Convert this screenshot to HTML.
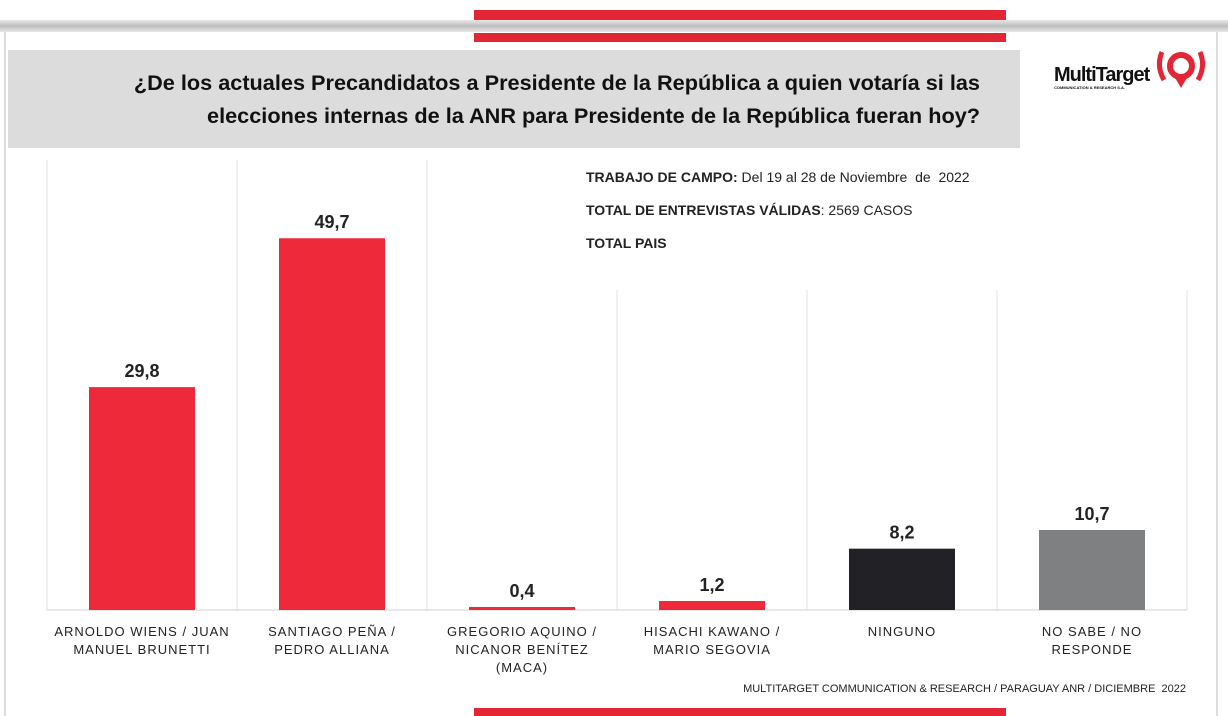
<!DOCTYPE html>
<html><head><meta charset="utf-8"><style>
body{margin:0;width:1228px;height:716px;overflow:hidden;background:#fff;font-family:"Liberation Sans",sans-serif;position:relative}
div{position:absolute}
</style></head><body>
<div style="left:0;top:0;width:1228px;height:22px;background:#fff"></div>
<div style="left:0;top:20px;width:1228px;height:12px;background:linear-gradient(#e8e8e8,#bdbdbd,#e8e8e8)"></div>
<div style="left:474px;top:10px;width:532px;height:10px;background:#e32636"></div>
<div style="left:474px;top:33px;width:532px;height:9px;background:#e32636"></div>
<div style="left:4px;top:32px;width:2px;height:684px;background:#ddd"></div>
<div style="left:1216px;top:32px;width:2px;height:684px;background:#ddd"></div>
<div style="left:8px;top:50px;width:1012px;height:98px;background:#dcdcdc"></div>
<div style="left:40px;top:66px;width:940px;text-align:right;font-size:21.7px;font-weight:bold;line-height:33px;color:#111">¿De los actuales Precandidatos a Presidente de la República a quien votaría si las<br>elecciones internas de la ANR para Presidente de la República fueran hoy?</div>
<div style="left:1054px;top:64px;font-size:20px;font-weight:bold;letter-spacing:-1px;color:#111">MultiTarget<div style="left:0;top:21px;font-size:4px;letter-spacing:0;white-space:nowrap">COMMUNICATION &amp; RESEARCH S.A.</div></div>
<svg style="position:absolute;left:1154px;top:44px" width="56" height="50"><path d="M8 8 Q2 22 10 36" stroke="#e32636" stroke-width="5" fill="none"/><path d="M46 8 Q52 22 44 36" stroke="#e32636" stroke-width="5" fill="none"/><circle cx="27" cy="22" r="11" stroke="#e32636" stroke-width="6" fill="none"/><path d="M20 32 L27 44 L34 32Z" fill="#e32636"/></svg>
<div style="left:586px;top:161px;font-size:14px;line-height:33px;color:#222"><b>TRABAJO DE CAMPO:</b> Del 19 al 28 de Noviembre &nbsp;de &nbsp;2022<br><b>TOTAL DE ENTREVISTAS VÁLIDAS</b>: 2569 CASOS<br><b>TOTAL PAIS</b></div>
<svg id="chart" style="position:absolute;left:0;top:0" width="1228" height="716"></svg>
<div style="left:600px;top:683px;width:586px;text-align:right;font-size:11px;color:#222">MULTITARGET COMMUNICATION &amp; RESEARCH / PARAGUAY ANR / DICIEMBRE &nbsp;2022</div>
<div style="left:474px;top:708px;width:532px;height:8px;background:#e32636"></div>
<script>
const categories=[["ARNOLDO WIENS / JUAN","MANUEL BRUNETTI"],["SANTIAGO PEÑA /","PEDRO ALLIANA"],["GREGORIO AQUINO /","NICANOR BENÍTEZ","(MACA)"],["HISACHI KAWANO /","MARIO SEGOVIA"],["NINGUNO"],["NO SABE / NO","RESPONDE"]];
const values=[29.8,49.7,0.4,1.2,8.2,10.7];
const labels=["29,8","49,7","0,4","1,2","8,2","10,7"];
const colors=["#ee2a3a","#ee2a3a","#ee2a3a","#ee2a3a","#222226","#7f8081"];
const svg=document.getElementById('chart');
const NS='http://www.w3.org/2000/svg';
const x0=47,colW=190,base=610,scale=7.48,barW=106;
const xc=i=>x0+colW*i+colW/2;
const y=v=>base-v*scale;
function mk(t,a){const e=document.createElementNS(NS,t);for(const k in a)e.setAttribute(k,a[k]);svg.appendChild(e);return e;}
for(let i=0;i<=categories.length;i++){
 const l=mk('line',{x1:x0+colW*i,x2:x0+colW*i,y1:i<=2?160:290,y2:base,stroke:'#e0e0e0','stroke-width':1});
 
 
}
const ax=mk('line',{x1:x0,x2:x0+colW*6,y1:base,y2:base,stroke:'#d0d0d0','stroke-width':1});


values.forEach((v,i)=>{
 const h=Math.max(v*scale,2);
 const r=mk('rect',{x:xc(i)-barW/2,y:base-h,width:barW,height:h,fill:colors[i]});
 
 
 const t=mk('text',{x:xc(i),y:y(v)-10,'text-anchor':'middle','font-size':18,'font-weight':'bold',fill:'#222','font-family':'Liberation Sans'});
 t.textContent=labels[i];
 
 
 categories[i].forEach((ln,j)=>{
  const c=mk('text',{x:xc(i),y:636+j*18,'text-anchor':'middle','font-size':13,'letter-spacing':1,fill:'#222','font-family':'Liberation Sans'});
  c.textContent=ln;
  
  
 });
});
</script>
</body></html>
